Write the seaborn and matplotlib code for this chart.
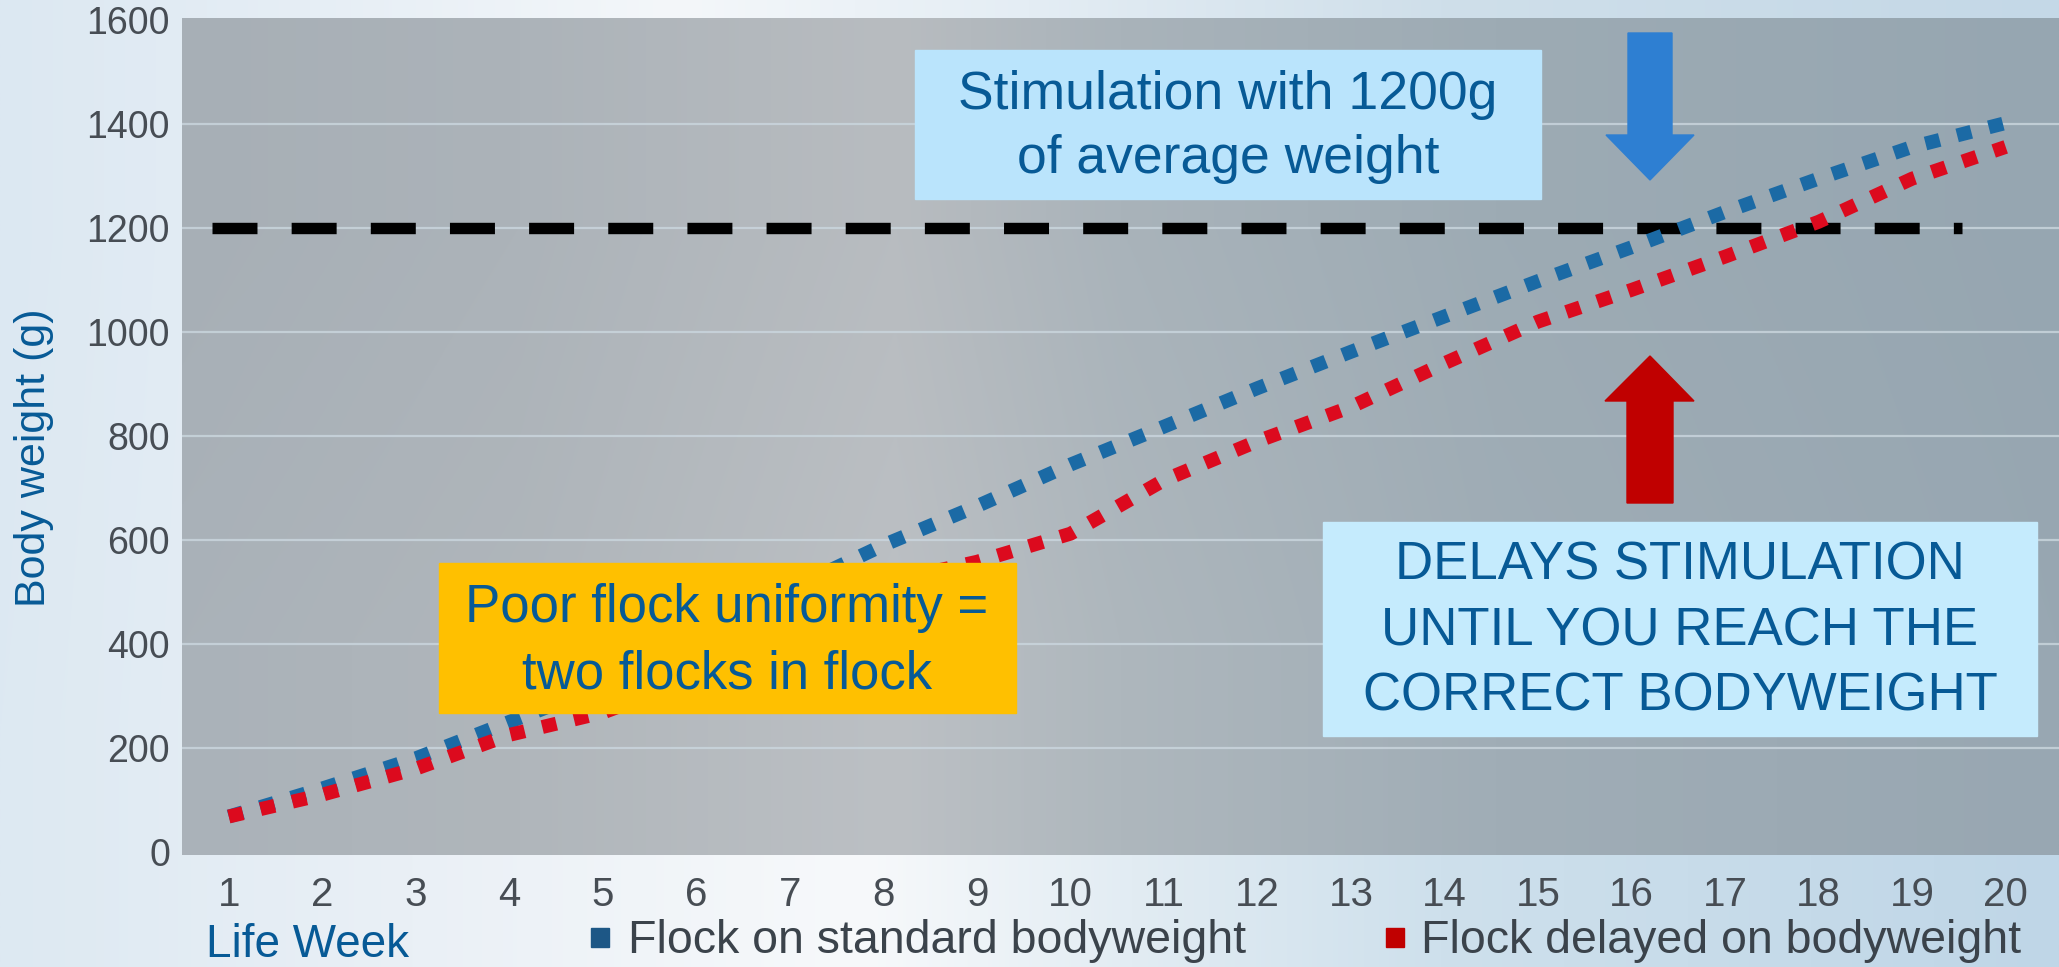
import numpy as np
import pandas as pd
import matplotlib
matplotlib.use("Agg")
import matplotlib.pyplot as plt
from matplotlib.colors import to_rgb
from matplotlib.patches import Rectangle, Polygon
import seaborn as sns

# ---- data -------------------------------------------------------------
weeks = list(range(1, 21))
standard_bw = [68, 122, 180, 250, 320, 405, 505, 590, 665, 745,
               818, 892, 962, 1030, 1098, 1163, 1231, 1295, 1356, 1402]
delayed_bw = [68, 110, 160, 225, 268, 335, 420, 518, 558, 612,
              715, 790, 856, 940, 1020, 1081, 1145, 1212, 1295, 1356]
series_names = ["Flock on standard bodyweight", "Flock delayed on bodyweight"]
stimulation_bw = 1200
y_ticks = [0, 200, 400, 600, 800, 1000, 1200, 1400, 1600]
grid_levels = [200, 400, 600, 800, 1000, 1200, 1400]

# ---- style ------------------------------------------------------------
BLUE = "#1b6aa5"
RED = "#dc0a1e"
TXT_BLUE = "#075a96"
TICK_GREY = "#474d54"
plt.rcParams["font.family"] = ["Liberation Sans", "DejaVu Sans"]

W, H, DPI = 2059, 967, 100
fig = plt.figure(figsize=(W / DPI, H / DPI), dpi=DPI)


def fx(px):
    return px / W


def fy(py):
    return 1 - py / H


def hgrad(stops, n=800):
    xs = np.linspace(0, 1, n)
    pos = [s[0] for s in stops]
    cols = np.array([to_rgb(s[1]) for s in stops])
    return np.stack([np.interp(xs, pos, cols[:, i]) for i in range(3)], axis=-1)


# page background
bg = fig.add_axes([0, 0, 1, 1], zorder=-10)
bg.axis("off")
top_row = hgrad([(0, "#dce8f2"), (0.15, "#e6eef5"), (0.33, "#f4f7fa"),
                 (0.5, "#e4edf4"), (0.7, "#cfdfea"), (1, "#c4d8e7")])
bot_row = hgrad([(0, "#dde9f2"), (0.2, "#eaf0f6"), (0.42, "#f7f9fb"),
                 (0.55, "#e2ecf3"), (0.7, "#cee0ec"), (1, "#bfd6e7")])
bg.imshow(np.stack([top_row, bot_row]), extent=(0, 1, 0, 1), aspect="auto",
          interpolation="bilinear")
bg.set_xlim(0, 1)
bg.set_ylim(0, 1)

# chart area
ax = fig.add_axes([fx(182), fy(855), 1 - fx(182), (855 - 18) / H])
XLIM = (0.5, 20.57)
YLIM = (-6, 1604)
plot_row = hgrad([(0, "#a7afb6"), (0.18, "#acb3b9"), (0.38, "#b8bcc0"),
                  (0.5, "#a9b3ba"), (0.7, "#9dabb4"), (1, "#96a6b1")])
plot_bot = hgrad([(0, "#aab2b9"), (0.18, "#b0b6bb"), (0.38, "#bcc0c4"),
                  (0.5, "#aeb7bd"), (0.7, "#a0adb6"), (1, "#98a7b2")])
ax.imshow(np.stack([plot_row, plot_bot]), extent=(*XLIM, *YLIM), aspect="auto",
          interpolation="bilinear", zorder=0)

for v in grid_levels:
    ax.axhline(v, color="#cbd7df", lw=1.6, alpha=0.8, zorder=1)

# stimulation threshold
ax.axhline(stimulation_bw, xmin=(212 - 182) / (W - 182), xmax=(1962 - 182) / (W - 182),
           color="black", lw=8.2, dashes=(3.95, 3.0), zorder=2)

# growth curves
df = pd.DataFrame({
    "week": weeks + weeks,
    "bw": standard_bw + delayed_bw,
    "flock": [series_names[0]] * len(weeks) + [series_names[1]] * len(weeks),
})
before = len(ax.lines)
sns.lineplot(data=df, x="week", y="bw", hue="flock", hue_order=series_names,
             palette=[BLUE, RED], linewidth=10, legend=False, ax=ax, zorder=3)
for line in ax.lines[before:]:
    line.set_dashes((1.05, 1.3))
    line.set_dash_capstyle("butt")

ax.set_xlim(*XLIM)
ax.set_ylim(*YLIM)
ax.set_xticks(weeks)
ax.set_xticklabels([str(w) for w in weeks])
ax.set_yticks(y_ticks)
ax.set_yticklabels([str(v) for v in y_ticks])
ax.tick_params(axis="both", length=0, colors=TICK_GREY)
ax.tick_params(axis="x", labelsize=29, pad=15)
ax.tick_params(axis="y", labelsize=27, pad=8.6)
ax.set_xlabel("")
ax.set_ylabel("")
for s in ax.spines.values():
    s.set_visible(False)

# axis titles
fig.text(fx(14), fy(458), "Body weight (g)", rotation=90, ha="left", va="center",
         fontsize=31, color=TXT_BLUE)
fig.text(fx(206), fy(957), "Life Week", ha="left", va="baseline",
         fontsize=33, color=TXT_BLUE)

# legend
legend_items = [(series_names[0], "#1d5786", 591, 628),
                (series_names[1], "#c00000", 1386, 1421)]
for name, col, mx, tx in legend_items:
    fig.add_artist(Rectangle((fx(mx), fy(947)), 18 / W, 19 / H,
                             transform=fig.transFigure, color=col, zorder=5))
    fig.text(fx(tx), fy(953), name, ha="left", va="baseline", fontsize=33.5,
             color="#3b434b")


def box(x0, y0, x1, y1, color):
    fig.add_artist(Rectangle((fx(x0), fy(y1)), (x1 - x0) / W, (y1 - y0) / H,
                             transform=fig.transFigure, color=color, zorder=5))


def poly(points, color):
    fig.add_artist(Polygon([(fx(x), fy(y)) for x, y in points], closed=True,
                           transform=fig.transFigure, color=color, zorder=6))


# callouts
box(915, 50, 1541, 199, "#bae4fc")
fig.text(fx(1228), fy(127), "Stimulation with 1200g\nof average weight",
         ha="center", va="center", multialignment="center", fontsize=38.5,
         linespacing=1.38, color=TXT_BLUE, zorder=7)

box(439, 563, 1016, 713, "#ffc000")
fig.text(fx(727), fy(641), "Poor flock uniformity =\ntwo flocks in flock",
         ha="center", va="center", multialignment="center", fontsize=38,
         linespacing=1.42, color=TXT_BLUE, zorder=7)

box(1323, 522, 2037, 736, "#c5ebfd")
fig.text(fx(1680), fy(631),
         "DELAYS STIMULATION\nUNTIL YOU REACH THE\nCORRECT BODYWEIGHT",
         ha="center", va="center", multialignment="center", fontsize=38,
         linespacing=1.4, color=TXT_BLUE, zorder=7)

# arrows
poly([(1628, 33), (1672, 33), (1672, 135), (1694, 135), (1650, 180),
      (1606, 135), (1628, 135)], "#2e7fd2")
poly([(1627, 503), (1673, 503), (1673, 401), (1694, 401), (1650, 356),
      (1605, 401), (1627, 401)], "#c00000")

fig.savefig("out.png", dpi=DPI)
